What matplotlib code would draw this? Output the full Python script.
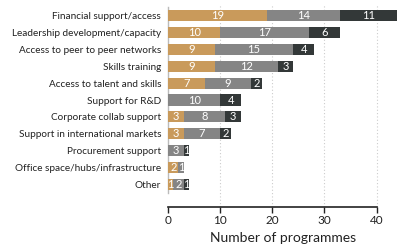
import matplotlib
matplotlib.use("Agg")
import matplotlib.pyplot as plt
import numpy as np

categories = ["Financial support/access", "Leadership development/capacity",
              "Access to peer to peer networks", "Skills training",
              "Access to talent and skills", "Support for R&D",
              "Corporate collab support", "Support in international markets",
              "Procurement support", "Office space/hubs/infrastructure", "Other"]
series_a = [19, 10, 9, 9, 7, 0, 3, 3, 0, 2, 1]
series_b = [14, 17, 15, 12, 9, 10, 8, 7, 3, 1, 2]
series_c = [11, 6, 4, 3, 2, 4, 3, 2, 1, 0, 1]
colors = ["#c99a5b", "#858585", "#333838"]
xticks = [0, 10, 20, 30, 40]

plt.rcParams['font.family'] = ['Lato', 'DejaVu Sans']
fig = plt.figure(figsize=(3.99, 2.47), dpi=100)
ax = fig.add_axes([168/399, 1-207/247, 231/399, 203/247])

y = np.arange(len(categories))
left = np.zeros(len(categories))
for vals, col in zip([series_a, series_b, series_c], colors):
    vals = np.array(vals, dtype=float)
    ax.barh(y, vals, left=left, color=col, height=0.66, zorder=3)
    for yi, l, v in zip(y, left, vals):
        if v > 0:
            ax.text(l + v/2, yi, f"{int(v)}", ha="center", va="center",
                    color="white", fontsize=8, zorder=4)
    left += vals

ax.set_ylim(len(categories) - 1 + 1.35, -0.7)
ax.set_xlim(0, 44.3)
ax.set_yticks(y)
ax.set_yticklabels(categories, fontsize=7.2, color="#222222")
ax.tick_params(axis='y', length=0, pad=5)
ax.set_xticks(xticks)
ax.set_xticklabels([str(t) for t in xticks], fontsize=8.5, color="#222222")
ax.tick_params(axis='x', length=4, width=1, color="#222222", pad=2)
ax.set_xlabel("Number of programmes", fontsize=10, color="#222222", labelpad=4)

for t in xticks[1:]:
    ax.axvline(t, color="#cccccc", linestyle=(0, (1, 2)), linewidth=0.8, zorder=1)

for s in ["top", "right"]:
    ax.spines[s].set_visible(False)
ax.spines["bottom"].set_bounds(0, 40)
ax.spines["bottom"].set_color("#222222")
ax.spines["bottom"].set_linewidth(1.2)
ax.spines["left"].set_bounds(-0.5, len(categories) - 0.5)
ax.spines["left"].set_color("#bbbbbb")
ax.spines["left"].set_linewidth(1)

fig.savefig("out.png", dpi=100)
